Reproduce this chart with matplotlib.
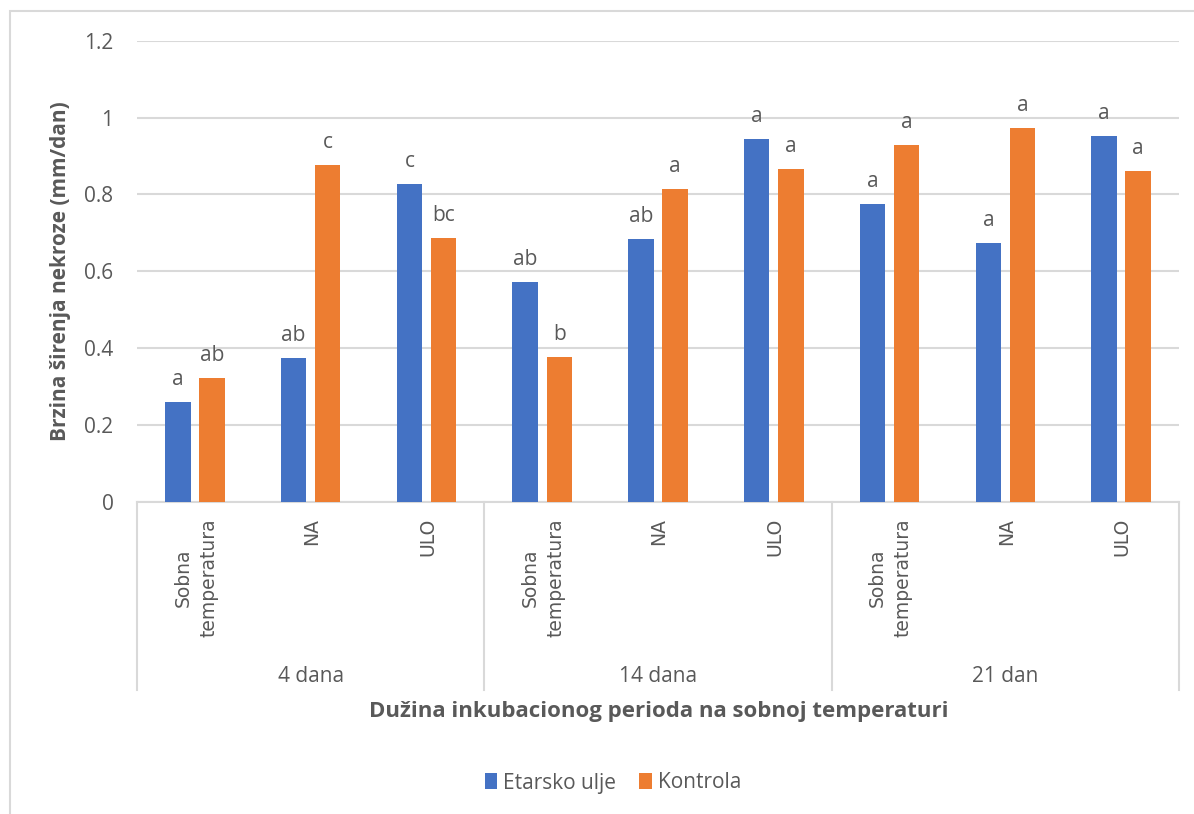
import matplotlib
matplotlib.use("Agg")
import matplotlib.pyplot as plt
from matplotlib.patches import Rectangle, Patch
from matplotlib.lines import Line2D

# Data
subcategories = ["Sobna\ntemperatura", "NA", "ULO"]
groups = ["4 dana", "14 dana", "21 dan"]
etarsko_ulje = [0.259, 0.374, 0.826, 0.571, 0.685, 0.943, 0.776, 0.674, 0.952]
kontrola = [0.323, 0.876, 0.688, 0.376, 0.815, 0.865, 0.929, 0.973, 0.862]
letters_etarsko = ["a", "ab", "c", "ab", "ab", "a", "a", "a", "a"]
letters_kontrola = ["ab", "c", "bc", "b", "a", "a", "a", "a", "a"]
y_ticks = [0, 0.2, 0.4, 0.6, 0.8, 1.0, 1.2]
y_tick_labels = ["0", "0.2", "0.4", "0.6", "0.8", "1", "1.2"]

BLUE = "#4472C4"
ORANGE = "#ED7D31"
GRID = "#D9D9D9"
TEXT = "#595959"
FONT = ["Open Sans", "DejaVu Sans"]
VFONT = ["DejaVu Sans"]

W, H = 1194, 814
fig = plt.figure(figsize=(W / 100, H / 100), dpi=100)

# chart-area border (runs off the right and bottom edges)
fig.patches.append(Rectangle((10 / W, -0.05), 1.1, 1 - 11 / H + 0.05,
                             transform=fig.transFigure, fill=False,
                             edgecolor=GRID, linewidth=1.5))

left, right, top, bottom = 137, 1179, 40.7, 502
ax = fig.add_axes([left / W, 1 - bottom / H, (right - left) / W, (bottom - top) / H])

n = len(etarsko_ulje)
x = list(range(n))
bw = 0.22
off = 0.147
xb = [i - off for i in x]
xo = [i + off for i in x]
ax.bar(xb, etarsko_ulje, width=bw, color=BLUE, zorder=3)
ax.bar(xo, kontrola, width=bw, color=ORANGE, zorder=3)

# significance letters above the bars
for xs, vals, labs in ((xb, etarsko_ulje, letters_etarsko), (xo, kontrola, letters_kontrola)):
    for xi, v, lab in zip(xs, vals, labs):
        ax.annotate(lab, (xi, v), xytext=(0, 12), textcoords="offset pixels",
                    ha="center", va="bottom", fontsize=15, color=TEXT, family=FONT)

ax.set_xlim(-0.5, n - 0.5)
ax.set_ylim(0, 1.2)
ax.set_yticks(y_ticks)
ax.set_yticklabels(y_tick_labels, fontsize=15, color=TEXT, family=FONT)
ax.tick_params(axis="y", length=0, pad=17)
ax.set_xticks([])
ax.yaxis.grid(True, color=GRID, linewidth=1.5, zorder=0)
ax.set_axisbelow(True)
for s in ("top", "left", "right"):
    ax.spines[s].set_visible(False)
ax.spines["bottom"].set_color(GRID)
ax.spines["bottom"].set_linewidth(1.5)

axh = bottom - top
xt = ax.get_xaxis_transform()

# sub-category labels (rotated)
for i in x:
    ax.annotate(subcategories[i % 3], (i, 0), xycoords=xt, xytext=(1, -16),
                textcoords="offset pixels", rotation=90, ha="center", va="top",
                multialignment="center", linespacing=1.45,
                fontsize=13.5, color=TEXT, family=VFONT)

# group dividers and labels
for b in (-0.5, 2.5, 5.5, 8.5):
    ax.add_line(Line2D([b, b], [0, -188 / axh], transform=xt, color=GRID,
                       linewidth=1.5, clip_on=False))
for g, name in enumerate(groups):
    ax.text(g * 3 + 1, -174 / axh, name, transform=xt, ha="center", va="center",
            fontsize=15, color=TEXT, family=FONT)

fig.text(658.5 / W, 1 - 712 / H, "Dužina inkubacionog perioda na sobnoj temperaturi",
         ha="center", va="center", fontsize=16, fontweight="bold", color=TEXT, family=FONT)
fig.text(61 / W, 1 - 271 / H, "Brzina širenja nekroze (mm/dan)", rotation=90,
         ha="center", va="center", fontsize=15, fontweight="bold", color=TEXT, family=FONT)

handles = [Patch(facecolor=BLUE, label="Etarsko ulje"), Patch(facecolor=ORANGE, label="Kontrola")]
fig.legend(handles=handles, loc="center", bbox_to_anchor=(613 / W, 1 - 783 / H), ncol=2,
           frameon=False, handlelength=0.6, handleheight=0.8, handletextpad=0.3,
           columnspacing=1.1, prop={"family": FONT, "size": 15}, labelcolor=TEXT)

fig.savefig("out.png", dpi=100)
